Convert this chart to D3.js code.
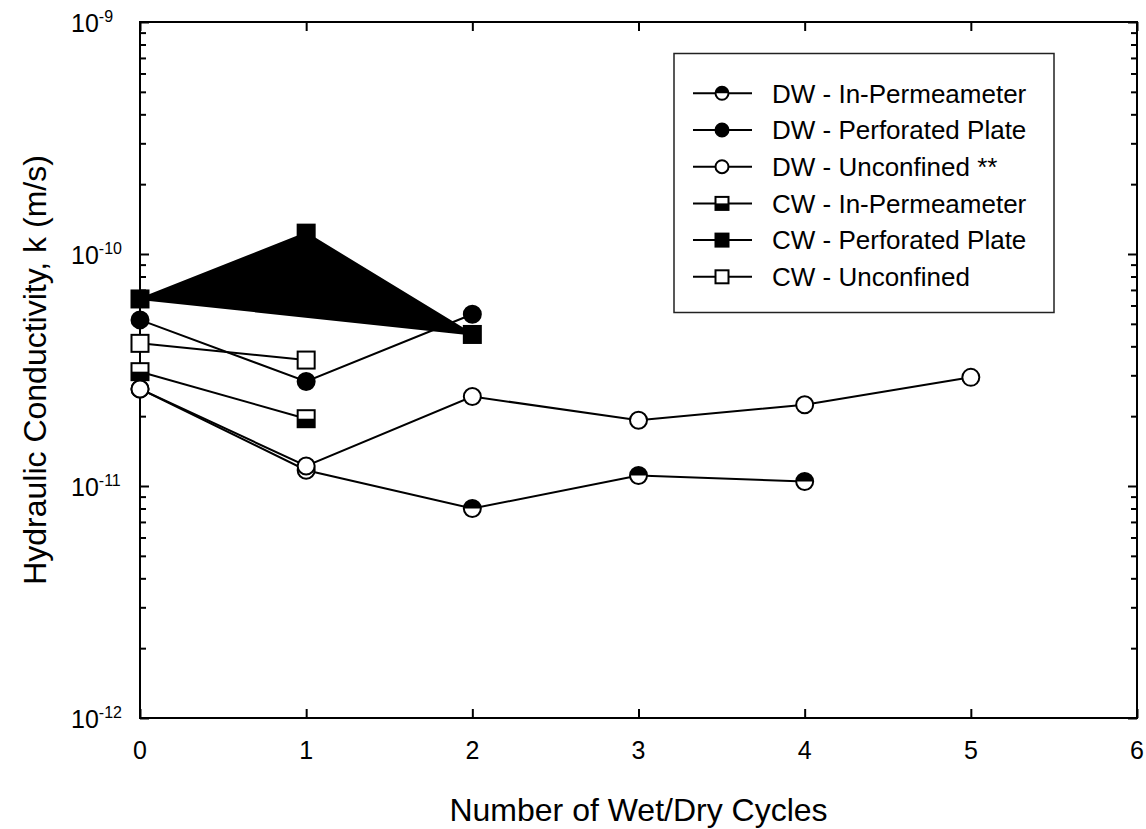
<!DOCTYPE html>
<html>
<head>
<meta charset="utf-8">
<script src="https://cdn.jsdelivr.net/npm/d3@7"></script>
<style>
  html, body { margin: 0; padding: 0; background: #fff; }
  svg { display: block; font-family: "Liberation Sans", Arial, sans-serif; }
</style>
</head>
<body>
<svg id="chart" width="1146" height="829"></svg>
<script>
// ---- data ----
const cycles = [0, 1, 2, 3, 4, 5];
const dwInPerm   = [2.62e-11, 1.17e-11, 8.0e-12, 1.11e-11, 1.045e-11];
const dwPerf     = [5.2e-11, 2.82e-11, 5.5e-11];
const dwUnconf   = [2.62e-11, 1.22e-11, 2.43e-11, 1.92e-11, 2.24e-11, 2.94e-11];
const cwInPerm   = [3.11e-11, 1.95e-11];
const cwPerf     = [6.4e-11, 1.23e-10, 4.5e-11];
const cwUnconf   = [4.12e-11, 3.49e-11];
const seriesLabels = ["DW - In-Permeameter", "DW - Perforated Plate", "DW - Unconfined **",
                      "CW - In-Permeameter", "CW - Perforated Plate", "CW - Unconfined"];
const xTickValues = [0, 1, 2, 3, 4, 5, 6];
const yTickExponents = [-12, -11, -10, -9];
const xTitle = "Number of Wet/Dry Cycles";
const yTitle = "Hydraulic Conductivity, k (m/s)";

const series = [
  { label: seriesLabels[0], values: dwInPerm, shape: "circle", fill: "halfTop" },
  { label: seriesLabels[1], values: dwPerf,   shape: "circle", fill: "full" },
  { label: seriesLabels[3], values: cwInPerm, shape: "square", fill: "halfBottom" },
  { label: seriesLabels[5], values: cwUnconf, shape: "square", fill: "none" },
  { label: seriesLabels[4], values: cwPerf,   shape: "square", fill: "full", area: true },
  { label: seriesLabels[2], values: dwUnconf, shape: "circle", fill: "none" }
];
const legendOrder = [0, 1, 5, 2, 4, 3];

// ---- layout ----
const L = 140, R = 1137, T = 22, B = 718;
const svg = d3.select("#chart");
const x = d3.scaleLinear().domain([0, 6]).range([L, R]);
const y = d3.scaleLog().domain([1e-12, 1e-9]).range([B, T]);

// frame
svg.append("rect").attr("x", L).attr("y", T).attr("width", R - L).attr("height", B - T)
  .attr("fill", "none").attr("stroke", "#000").attr("stroke-width", 2);

// y ticks (left & right), inward
const minorVals = [];
for (let e = -12; e < -9; e++) for (let m = 2; m <= 9; m++) minorVals.push(m * Math.pow(10, e));
const majorVals = yTickExponents.map(e => Math.pow(10, e));
const yAxisL = d3.axisRight(y).tickValues(majorVals).tickSize(9).tickFormat("");
const yAxisLm = d3.axisRight(y).tickValues(minorVals).tickSize(6).tickFormat("");
const yAxisR = d3.axisLeft(y).tickValues(majorVals).tickSize(9).tickFormat("");
const yAxisRm = d3.axisLeft(y).tickValues(minorVals).tickSize(6).tickFormat("");
[[yAxisL, L], [yAxisLm, L], [yAxisR, R], [yAxisRm, R]].forEach(([ax, px]) => {
  const g = svg.append("g").attr("transform", `translate(${px},0)`).call(ax);
  g.select(".domain").remove();
  g.selectAll("line").attr("stroke", "#000").attr("stroke-width", 2);
});
// x ticks (bottom & top), inward
const xAxisB = d3.axisTop(x).tickValues(xTickValues).tickSize(9).tickFormat("");
const xAxisT = d3.axisBottom(x).tickValues(xTickValues).tickSize(9).tickFormat("");
[[xAxisB, B], [xAxisT, T]].forEach(([ax, py]) => {
  const g = svg.append("g").attr("transform", `translate(0,${py})`).call(ax);
  g.select(".domain").remove();
  g.selectAll("line").attr("stroke", "#000").attr("stroke-width", 2);
});

// tick labels
svg.append("g").selectAll("text").data(xTickValues).join("text")
  .attr("x", d => x(d)).attr("y", 759).attr("text-anchor", "middle")
  .attr("font-size", 25).text(d => d);
const yl = svg.append("g").selectAll("text").data(yTickExponents).join("text")
  .attr("x", 71).attr("y", d => y(Math.pow(10, d)) + 10).attr("font-size", 25);
yl.append("tspan").text("10");
yl.append("tspan").attr("font-size", 16).attr("dy", -10).text(d => d);

// axis titles
svg.append("text").attr("x", (L + R) / 2).attr("y", 821).attr("text-anchor", "middle")
  .attr("font-size", 32).text(xTitle);
svg.append("text").attr("transform", `translate(46,${(T + B) / 2}) rotate(-90)`)
  .attr("text-anchor", "middle").attr("font-size", 32).text(yTitle);

// markers
function drawMarker(g, shape, fill, cx, cy, size) {
  if (shape === "circle") {
    const r = size / 2;
    g.append("circle").attr("cx", cx).attr("cy", cy).attr("r", r)
      .attr("fill", fill === "full" ? "#000" : "#fff").attr("stroke", "none");
    if (fill === "halfTop") {
      g.append("path").attr("d", `M${cx - r},${cy} A${r},${r} 0 0 1 ${cx + r},${cy} Z`).attr("fill", "#000");
    }
    g.append("circle").attr("cx", cx).attr("cy", cy).attr("r", r)
      .attr("fill", "none").attr("stroke", "#000").attr("stroke-width", 2);
  } else {
    const h = size / 2;
    g.append("rect").attr("x", cx - h).attr("y", cy - h).attr("width", size).attr("height", size)
      .attr("fill", fill === "full" ? "#000" : "#fff").attr("stroke", "none");
    if (fill === "halfBottom") {
      g.append("rect").attr("x", cx - h).attr("y", cy).attr("width", size).attr("height", h).attr("fill", "#000");
    }
    g.append("rect").attr("x", cx - h).attr("y", cy - h).attr("width", size).attr("height", size)
      .attr("fill", "none").attr("stroke", "#000").attr("stroke-width", 2);
  }
}

const line = d3.line().x((d, i) => x(cycles[i])).y(d => y(d));
const plot = svg.append("g");
series.forEach(s => {
  plot.append("path").attr("d", line(s.values) + (s.area ? "Z" : ""))
    .attr("fill", s.area ? "#000" : "none").attr("stroke", "#000").attr("stroke-width", 2)
    .attr("stroke-linejoin", "miter");
  const mg = plot.append("g");
  s.values.forEach((v, i) => drawMarker(mg, s.shape, s.fill, x(cycles[i]), y(v), s.shape === "circle" ? 17 : 17));
});

// legend
const lg = svg.append("g");
lg.append("rect").attr("x", 674).attr("y", 53.5).attr("width", 380).attr("height", 259)
  .attr("fill", "#fff").attr("stroke", "#222").attr("stroke-width", 1.5);
legendOrder.forEach((si, k) => {
  const s = series[si];
  const cy = 93.3 + k * 36.7;
  lg.append("line").attr("x1", 693).attr("x2", 752).attr("y1", cy).attr("y2", cy)
    .attr("stroke", "#000").attr("stroke-width", 2);
  drawMarker(lg, s.shape, s.fill, 722, cy, 13);
  lg.append("text").attr("x", 772).attr("y", cy + 9.3).attr("font-size", 26).text(s.label);
});
</script>
</body>
</html>
